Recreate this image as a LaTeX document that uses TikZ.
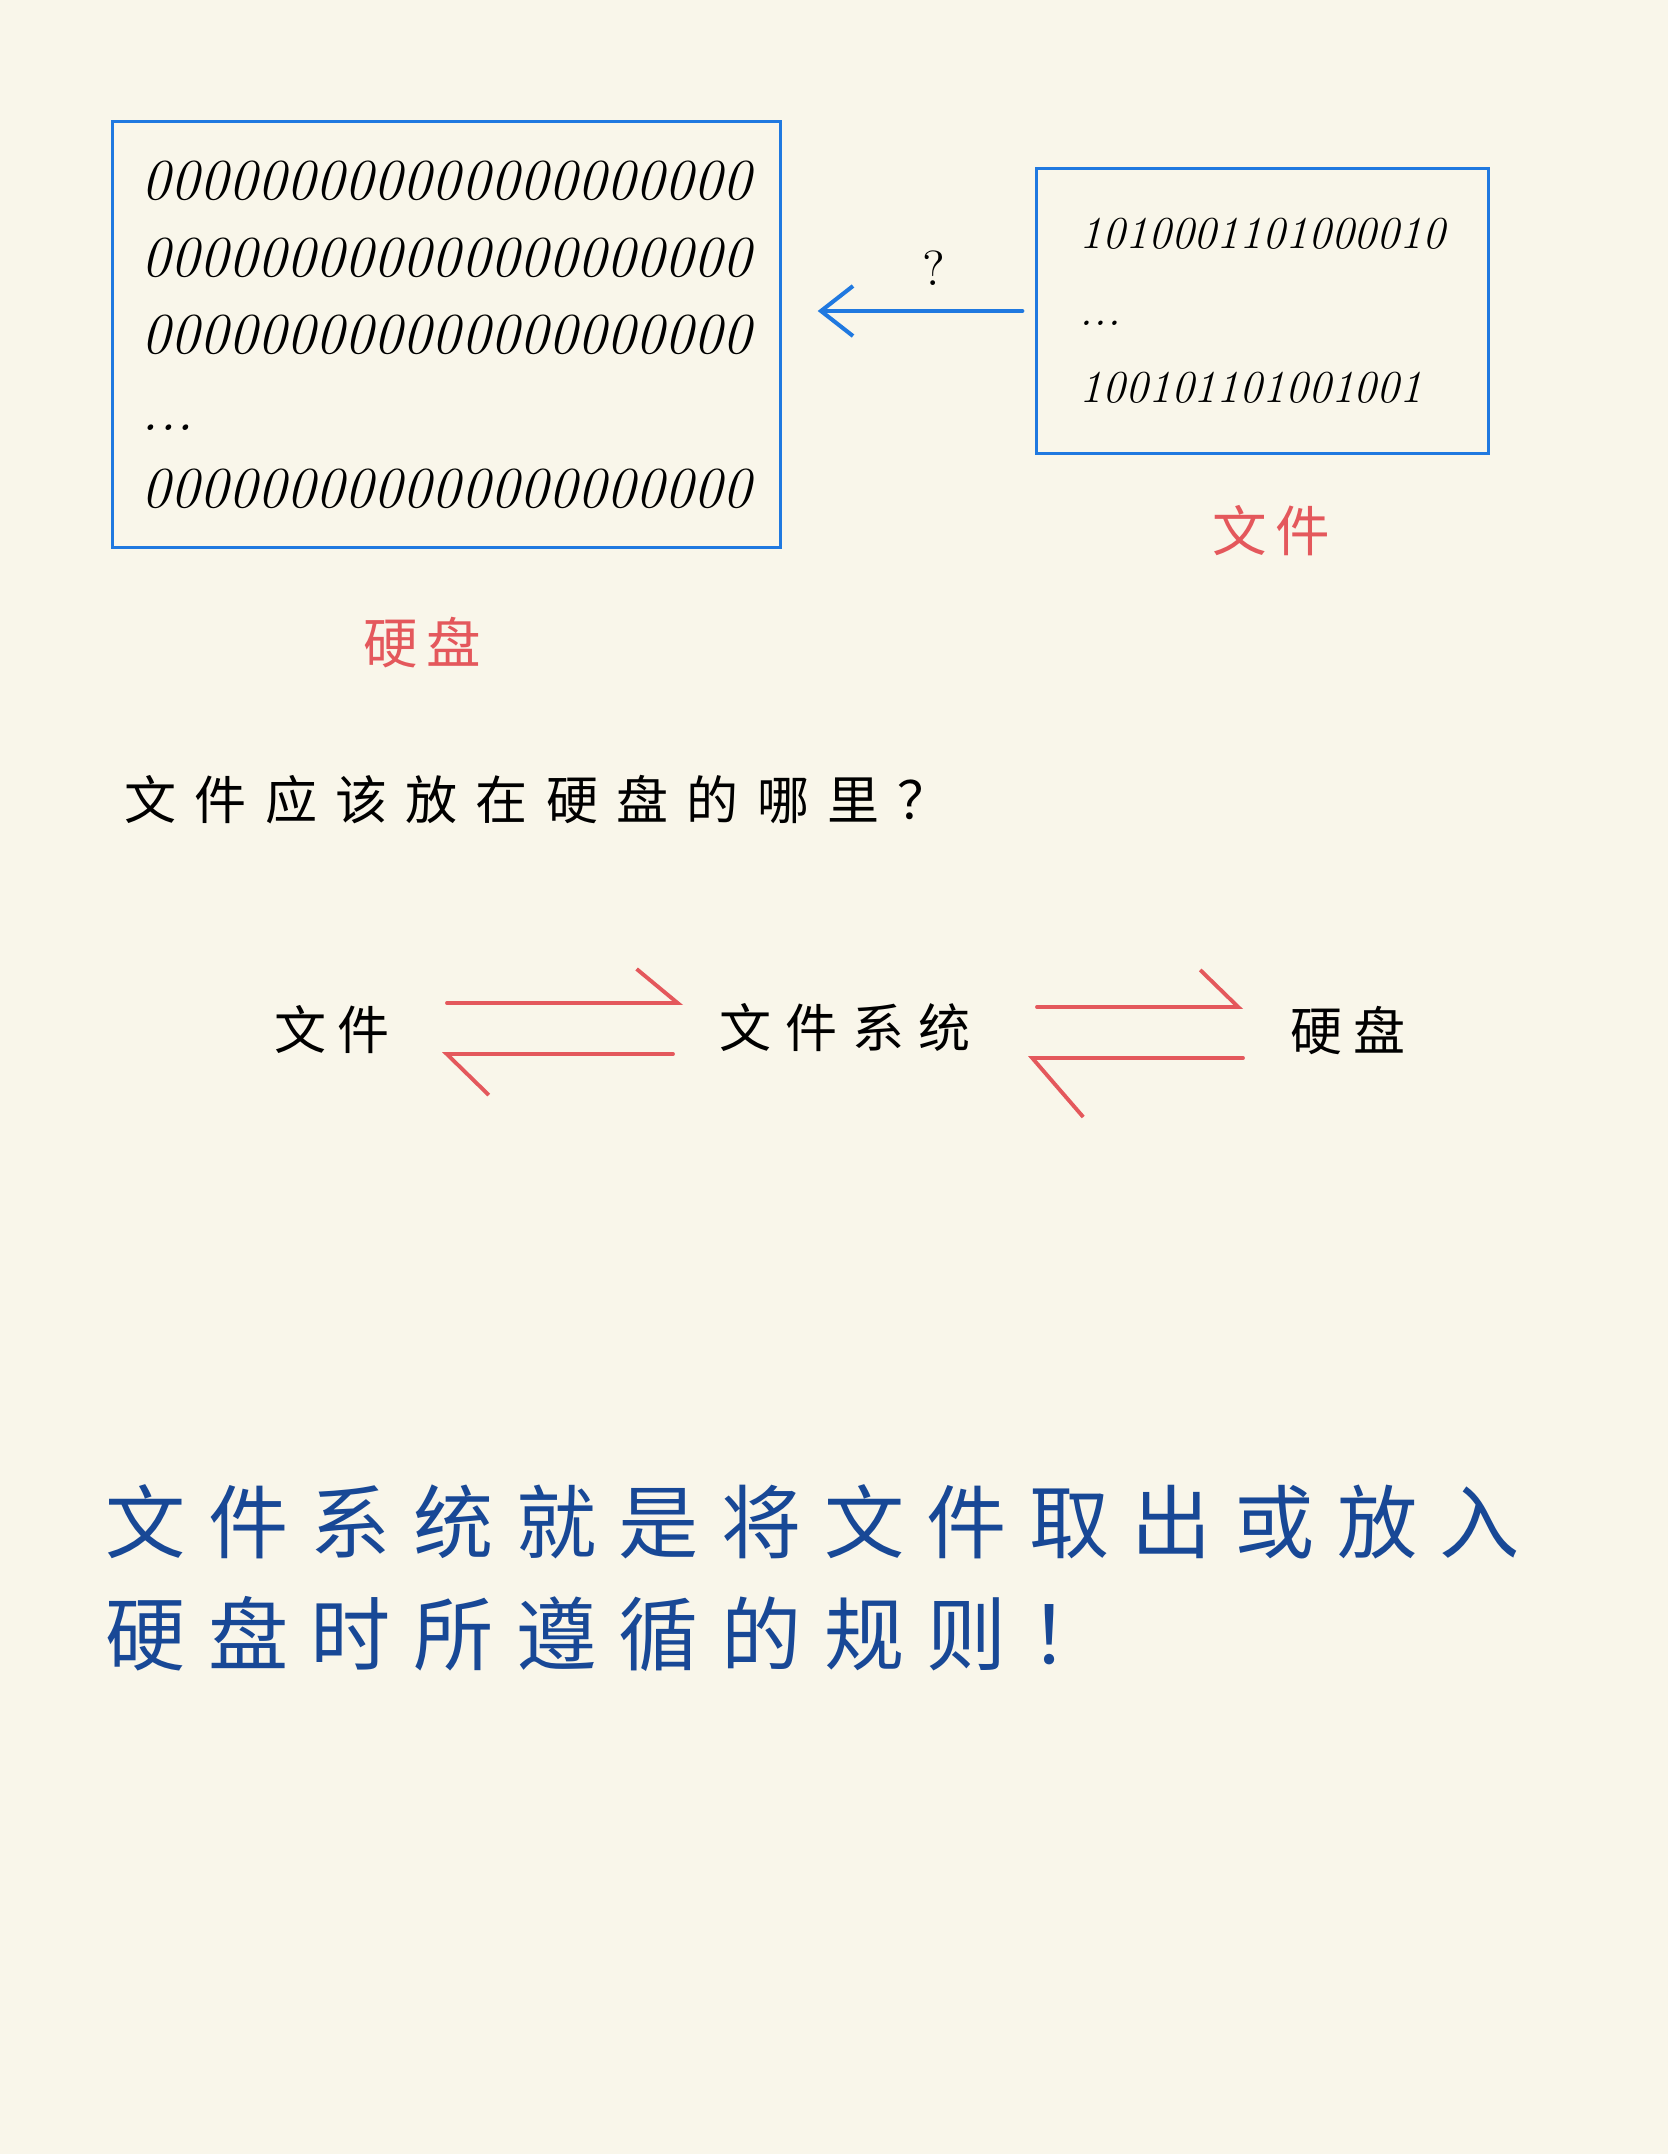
\documentclass[tikz,border=0pt]{standalone}
\usepackage{fontspec}
\newfontfamily\cjk{Noto Sans CJK SC}
\usepackage{xcolor}
\usepackage{tikz}
\usetikzlibrary{positioning, arrows.meta, calc}
\definecolor{paper}{RGB}{249,246,234}
\definecolor{boxblue}{RGB}{32,121,224}
\definecolor{inkred}{RGB}{228,88,92}
\definecolor{inkblue}{RGB}{24,72,150}
\newcommand{\zerorow}{000000000000000000000}

\begin{document}
\begin{tikzpicture}[
  x=0.01cm, y=-0.01cm,
  bitbox/.style={rectangle, draw=boxblue, line width=0.85pt,
    inner sep=0pt, align=left},
  redlbl/.style={text=inkred, inner sep=0pt,
    font=\cjk\fontsize{15.5}{18}\selectfont\addfontfeature{LetterSpace=16}},
  word/.style={inner sep=0pt,
    font=\cjk\fontsize{14.8}{18}\selectfont\addfontfeature{LetterSpace=22}},
  harp/.style={inkred, line width=1.1pt, line cap=round}
]
\fill[paper] (0,0) rectangle (1668,2154);

\node[bitbox, minimum width=6.67cm, minimum height=4.25cm,
      font=\itshape\fontsize{16.5}{21.9}\selectfont] (disk) at (446.5,334.5)
  {\zerorow\\ \zerorow\\ \zerorow\\ ...\\ \zerorow};
\node[bitbox, minimum width=4.51cm, minimum height=2.84cm,
      font=\itshape\fontsize{13}{21.9}\selectfont] (file) at (1262.5,311)
  {1010001101000010\\ ...\\ 100101101001001};

\node[redlbl, below=0.5cm of file, xshift=0.09cm] (filelbl) {文件};
\node[redlbl, below=0.68cm of disk, xshift=-0.24cm] (disklbl) {硬盘};

\draw[-{Straight Barb[length=0.32cm, width=0.5cm]}, boxblue,
      line width=1.15pt, line cap=round,
      shorten <=0.13cm, shorten >=0.36cm]
  (file.west) -- (file.west -| disk.east)
  node[pos=0.4, above=0.12cm, text=black,
       font=\fontsize{14}{16}\selectfont] {?};

\node[anchor=west, inner sep=0pt,
      font=\cjk\fontsize{14.8}{18}\selectfont\addfontfeature{LetterSpace=35}]
  (ask) at (124,800) {文件应该放在硬盘的哪里？};

\node[word] (wj) at (332,1030) {文件};
\node[word, font=\cjk\fontsize{14.8}{18}\selectfont\addfontfeature{LetterSpace=28}]
  (fs) at (845,1028) {文件系统};
\node[word] (yp) at (1348,1030) {硬盘};

\draw[harp, -{Straight Barb[harpoon, length=0.41cm, width=0.68cm]}]
  ($(wj)+(115,-27)$) -- ($(fs)+(-162,-25)$);
\draw[harp, -{Straight Barb[harpoon, length=0.42cm, width=0.82cm]}]
  ($(fs)+(-172,26)$) -- ($(wj)+(110,24)$);
\draw[harp, -{Straight Barb[harpoon, length=0.38cm, width=0.74cm]}]
  ($(fs)+(192,-21)$) -- ($(yp)+(-105,-23)$);
\draw[harp, -{Straight Barb[harpoon, length=0.51cm, width=1.18cm]}]
  ($(yp)+(-105,28)$) -- ($(fs)+(183,30)$);

\node[anchor=west, inner sep=0pt, align=left, text=inkblue,
      font=\cjk\fontsize{22.8}{32.1}\selectfont\addfontfeature{LetterSpace=28}]
  (rule) at (105,1578)
  {文件系统就是将文件取出或放入\\硬盘时所遵循的规则！};
\end{tikzpicture}
\end{document}
